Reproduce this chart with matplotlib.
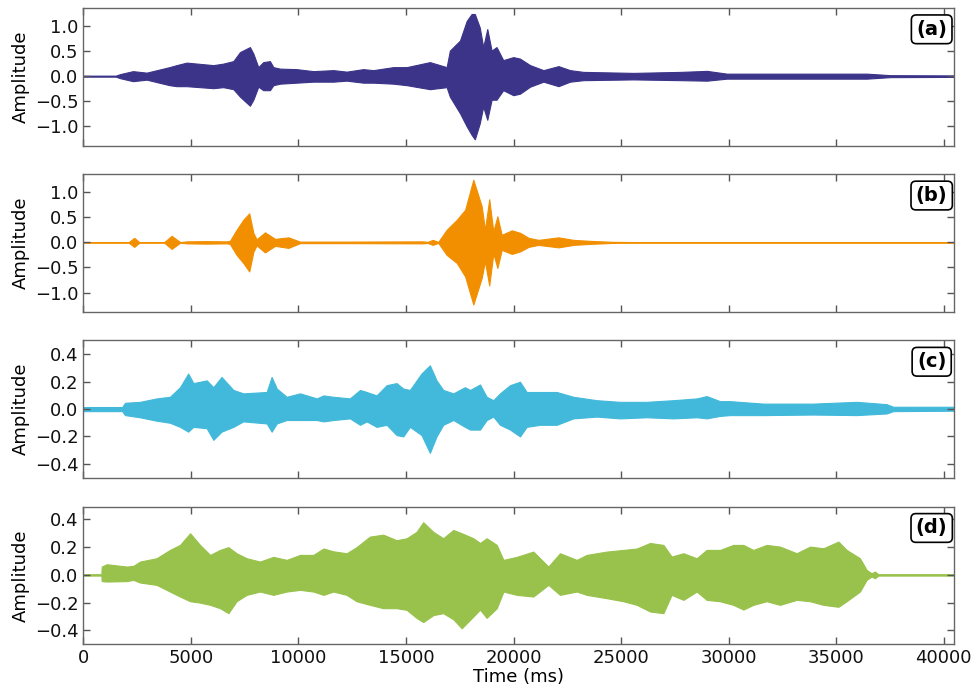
import numpy as np
import matplotlib.pyplot as plt

labelFontSize= 13
tickLabelFontSize= 13
tagFontSize= 14

colors= ['#3b3489', '#f28f00', '#42b9da', '#98c24b']
tags= ['(a)', '(b)', '(c)', '(d)']

# envelopes: time (ms), upper and lower amplitude
t_a= [0, 1500, 1700, 2300, 2940, 4000, 4330, 4800, 6040, 6500, 6970, 7280, 7740, 7900,
      8130, 8360, 8670, 8830, 9140, 9910, 10690, 11620, 12240, 13010, 13480, 14410,
      15030, 16110, 16890, 17040, 17510, 17820, 18050, 18200, 18430, 18590, 18780,
      18980, 19210, 19520, 19990, 20300, 20770, 21390, 22090, 22630, 23250, 25580,
      27750, 29000, 29920, 34880, 36430, 37510, 40500]
up_a= [0.01, 0.01, 0.04, 0.10, 0.07, 0.18, 0.22, 0.27, 0.22, 0.25, 0.30, 0.48, 0.58, 0.45,
       0.18, 0.28, 0.30, 0.18, 0.15, 0.14, 0.10, 0.12, 0.09, 0.14, 0.12, 0.18,
       0.18, 0.28, 0.18, 0.51, 0.71, 1.10, 1.24, 1.24, 0.97, 0.58, 0.94,
       0.51, 0.58, 0.32, 0.38, 0.35, 0.22, 0.12, 0.20, 0.12, 0.085, 0.065,
       0.085, 0.105, 0.05, 0.05, 0.05, 0.02, 0.015]
lo_a= [-0.01, -0.01, -0.04, -0.10, -0.07, -0.18, -0.20, -0.20, -0.24, -0.22, -0.26, -0.41, -0.59, -0.47,
       -0.21, -0.28, -0.28, -0.18, -0.15, -0.13, -0.11, -0.11, -0.09, -0.13, -0.13, -0.15,
       -0.18, -0.26, -0.22, -0.41, -0.74, -1.00, -1.17, -1.26, -0.94, -0.61, -0.87,
       -0.47, -0.47, -0.28, -0.38, -0.35, -0.21, -0.11, -0.20, -0.11, -0.08, -0.065,
       -0.08, -0.09, -0.05, -0.05, -0.05, -0.02, -0.015]

t_b= [0, 2100, 2360, 2600, 3750, 4100, 4500, 4800, 5700, 6660, 6810, 7120, 7430, 7710,
      7900, 8050, 8440, 8910, 9530, 10070, 12000, 15800, 16000, 16240, 16500, 16890,
      17360, 17750, 18130, 18520, 18670, 18870, 19060, 19250, 19450, 19920, 20310,
      20700, 20930, 21160, 22090, 22790, 23570, 24650, 26000, 40500]
up_b= [0.005, 0.005, 0.09, 0.005, 0.005, 0.13, 0.005, 0.02, 0.025, 0.02, 0.03, 0.25, 0.45, 0.58,
       0.19, 0.06, 0.20, 0.07, 0.10, 0.015, 0.015, 0.02, 0.01, 0.05, 0.01, 0.25,
       0.45, 0.65, 1.25, 0.72, 0.25, 0.86, 0.22, 0.52, 0.15, 0.24, 0.19,
       0.09, 0.07, 0.05, 0.10, 0.05, 0.03, 0.01, 0.005, 0.005]
lo_b= [-0.005, -0.005, -0.09, -0.005, -0.005, -0.13, -0.005, -0.02, -0.025, -0.02, -0.03, -0.25, -0.41, -0.58,
       -0.19, -0.06, -0.20, -0.07, -0.11, -0.015, -0.015, -0.02, -0.01, -0.05, -0.01, -0.25,
       -0.41, -0.68, -1.24, -0.71, -0.38, -0.86, -0.22, -0.51, -0.15, -0.23, -0.18,
       -0.09, -0.07, -0.05, -0.10, -0.05, -0.03, -0.01, -0.005, -0.005]

t_c= [0, 1800, 1930, 2630, 3400, 4020, 4490, 4870, 5110, 5730, 6040, 6420, 6970, 7430,
      8520, 8750, 8990, 9450, 10070, 10850, 11160, 11620, 12390, 12860, 13170, 13630,
      14100, 14560, 14870, 15180, 15720, 16110, 16420, 16730, 17200, 17740, 17980,
      18440, 18750, 19060, 19370, 19840, 20300, 20610, 21230, 22010, 22780, 23870,
      24950, 26190, 27430, 28520, 28980, 29600, 30070, 31620, 33940, 35960, 37350,
      37660, 40500]
up_c= [0.015, 0.015, 0.046, 0.053, 0.078, 0.09, 0.16, 0.26, 0.19, 0.21, 0.16, 0.235, 0.14, 0.115,
       0.125, 0.235, 0.15, 0.09, 0.115, 0.078, 0.10, 0.09, 0.078, 0.14, 0.125, 0.10,
       0.175, 0.19, 0.15, 0.14, 0.26, 0.32, 0.21, 0.14, 0.115, 0.16, 0.14,
       0.18, 0.09, 0.065, 0.115, 0.175, 0.20, 0.125, 0.125, 0.125, 0.09, 0.065,
       0.053, 0.053, 0.065, 0.078, 0.095, 0.058, 0.058, 0.04, 0.04, 0.053, 0.036,
       0.017, 0.017]
lo_c= [-0.015, -0.015, -0.044, -0.06, -0.085, -0.10, -0.13, -0.165, -0.13, -0.14, -0.225, -0.165, -0.13, -0.09,
       -0.105, -0.165, -0.105, -0.08, -0.08, -0.08, -0.09, -0.08, -0.068, -0.115, -0.09, -0.13,
       -0.115, -0.19, -0.20, -0.13, -0.19, -0.32, -0.20, -0.115, -0.08, -0.13, -0.15,
       -0.15, -0.08, -0.055, -0.115, -0.15, -0.20, -0.13, -0.115, -0.115, -0.068, -0.055,
       -0.068, -0.06, -0.068, -0.06, -0.068, -0.05, -0.044, -0.044, -0.04, -0.044, -0.032,
       -0.015, -0.012]

t_d= [0, 830, 850, 1080, 2010, 2320, 2630, 3400, 4020, 4490, 4960, 5420, 5890, 6350,
      6740, 7120, 7590, 8210, 8830, 9450, 10070, 10690, 11160, 11620, 12240, 12700,
      13320, 13940, 14560, 15030, 15490, 15800, 16270, 16730, 17200, 17590, 18130,
      18440, 18750, 19220, 19530, 20150, 20920, 21620, 22160, 22940, 23400, 24330,
      25110, 25730, 26350, 26970, 27350, 27900, 28520, 28980, 29600, 30220, 30690,
      31150, 31770, 32390, 33170, 33790, 34410, 35110, 35490, 36110, 36420, 36650,
      36810, 36960, 40500]
up_d= [0.005, 0.005, 0.06, 0.077, 0.06, 0.065, 0.096, 0.12, 0.18, 0.216, 0.30, 0.216, 0.144, 0.18,
       0.20, 0.156, 0.12, 0.096, 0.13, 0.108, 0.144, 0.144, 0.19, 0.17, 0.156, 0.20,
       0.276, 0.29, 0.25, 0.264, 0.31, 0.38, 0.31, 0.264, 0.324, 0.30, 0.264,
       0.23, 0.264, 0.216, 0.108, 0.13, 0.168, 0.06, 0.156, 0.108, 0.144, 0.168,
       0.18, 0.19, 0.23, 0.216, 0.132, 0.156, 0.12, 0.18, 0.18, 0.216, 0.216,
       0.18, 0.216, 0.204, 0.156, 0.204, 0.192, 0.24, 0.18, 0.12, 0.036, 0.012,
       0.024, 0.005, 0.005]
lo_d= [-0.005, -0.005, -0.045, -0.048, -0.045, -0.036, -0.055, -0.072, -0.12, -0.156, -0.19, -0.20, -0.216, -0.24,
       -0.276, -0.19, -0.144, -0.12, -0.144, -0.12, -0.108, -0.12, -0.144, -0.12, -0.144, -0.19,
       -0.216, -0.24, -0.24, -0.252, -0.31, -0.34, -0.29, -0.276, -0.32, -0.385, -0.30,
       -0.25, -0.31, -0.24, -0.12, -0.144, -0.156, -0.072, -0.144, -0.12, -0.144, -0.168,
       -0.19, -0.216, -0.264, -0.276, -0.144, -0.18, -0.12, -0.18, -0.19, -0.216, -0.25,
       -0.216, -0.19, -0.216, -0.18, -0.19, -0.216, -0.23, -0.19, -0.12, -0.036, -0.012,
       -0.024, -0.005, -0.005]

envelopes= [(t_a, up_a, lo_a), (t_b, up_b, lo_b), (t_c, up_c, lo_c), (t_d, up_d, lo_d)]
yLims= [(-1.385, 1.36), (-1.385, 1.36), (-0.504, 0.502), (-0.5, 0.492)]
yTicks= [[-1.0, -0.5, 0.0, 0.5, 1.0], [-1.0, -0.5, 0.0, 0.5, 1.0],
         [-0.4, -0.2, 0.0, 0.2, 0.4], [-0.4, -0.2, 0.0, 0.2, 0.4]]
xTicks= [0, 5000, 10000, 15000, 20000, 25000, 30000, 35000, 40000]
xMax= 40500

fig, axes= plt.subplots(4, 1, sharex=True, figsize=(9.74, 6.88), dpi=100)
fig.subplots_adjust(left=0.0857, right=0.9798, bottom=0.0636, top=0.9884, hspace=0.208)

for i, ax in enumerate(axes):
    t, up, lo= envelopes[i]
    ax.fill_between(t, lo, up, color=colors[i], lw=0.8, edgecolor=colors[i])
    ax.set_xlim(0, xMax)
    ax.set_ylim(*yLims[i])
    ax.set_yticks(yTicks[i])
    ax.set_xticks(xTicks)
    ax.set_ylabel('Amplitude', fontsize=labelFontSize)
    ax.tick_params(direction='in', top=True, right=True, length=5, width=1,
                   color='#555555', labelsize=tickLabelFontSize, labelcolor='#111111')
    for s in ax.spines.values():
        s.set_color('#666666')
        s.set_linewidth(1.0)
    ax.text(0.974, 0.845, tags[i], transform=ax.transAxes, ha='center', va='center',
            fontsize=tagFontSize, fontweight='bold',
            bbox=dict(boxstyle='round,pad=0.25', facecolor='white', edgecolor='black', lw=1.2))

axes[-1].set_xlabel('Time (ms)', fontsize=labelFontSize, labelpad=1)
fig.align_ylabels(axes)

plt.savefig('out.png', dpi=100)
